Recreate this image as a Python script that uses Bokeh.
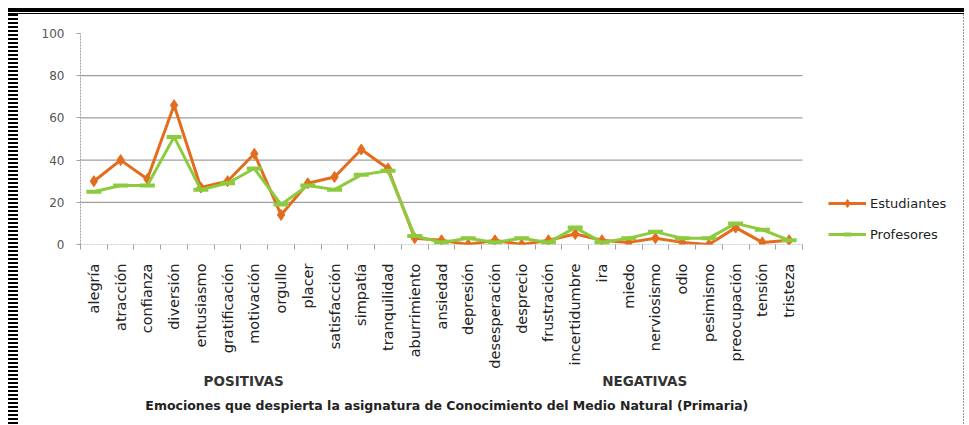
import math
from bokeh.plotting import figure
from bokeh.models import (FixedTicker, Legend, LegendItem, Range1d, Div, LinearAxis,
                          CustomJSTickFormatter, ColumnDataSource)
from bokeh.layouts import row, column
from bokeh.embed import file_html
from bokeh.resources import INLINE

# ---------------- data ----------------
categories = ["alegría", "atracción", "confianza", "diversión", "entusiasmo",
              "gratificación", "motivación", "orgullo", "placer", "satisfacción",
              "simpatía", "tranquilidad",
              "aburrimiento", "ansiedad", "depresión", "desesperación", "desprecio",
              "frustración", "incertidumbre", "ira", "miedo", "nerviosismo", "odio",
              "pesimismo", "preocupación", "tensión", "tristeza"]
estudiantes = [30, 40, 31, 66, 27, 30, 43, 14, 29, 32, 45, 36,
               3, 2, 0, 2, 0, 2, 5, 2, 1, 3, 1, 0, 8, 1, 2]
profesores = [25, 28, 28, 51, 26, 29, 36, 19, 28, 26, 33, 35,
              4, 1, 3, 1, 3, 1, 8, 1, 3, 6, 3, 3, 10, 7, 2]
series_names = ["Estudiantes", "Profesores"]
group_labels = ["POSITIVAS", "NEGATIVAS"]
title_text = "Emociones que despierta la asignatura de Conocimiento del Medio Natural (Primaria)"
y_ticks = [0, 20, 40, 60, 80, 100]
grid_ticks = [20, 40, 60, 80]

ORANGE = "#E36C1E"
GREEN = "#8DCB3E"
AXIS_GREY = "#a0a0a0"
FONT = "DejaVu Sans"

n = len(categories)
xs = [i + 0.5 for i in range(n)]
src = ColumnDataSource(dict(x=xs, est=estudiantes, prof=profesores))

# plot area of the categories is 722px wide; the frame is widened to the
# right so that the legend (drawn inside the frame) stays visible
FIG_W, FIG_H = 945, 410
LEFT, RIGHT, TOP, BOTTOM = 62, 10, 19, 180
cat_px = 722
frame_w = FIG_W - LEFT - RIGHT
x_end = n * frame_w / cat_px

p = figure(width=FIG_W, height=FIG_H, output_backend="svg", toolbar_location=None,
           x_range=Range1d(0, x_end), y_range=Range1d(0, 100),
           min_border_left=LEFT, min_border_right=RIGHT, min_border_top=TOP,
           min_border_bottom=BOTTOM)
p.outline_line_color = None
p.background_fill_color = "white"
p.border_fill_color = "white"

# category axis: labels at centres, tick marks between categories
p.xaxis.ticker = FixedTicker(ticks=xs, minor_ticks=list(range(n + 1)))
p.xaxis.formatter = CustomJSTickFormatter(args=dict(labels=categories),
                                          code="return labels[Math.floor(tick)] || '';")
p.xaxis.major_label_orientation = math.pi / 2
p.xaxis.major_tick_line_color = None
p.xaxis.major_tick_out = 0
p.xaxis.major_tick_in = 0
p.xaxis.minor_tick_out = 5
p.xaxis.minor_tick_in = 0
p.xaxis.minor_tick_line_color = AXIS_GREY
p.xaxis.axis_line_color = None
p.xaxis.major_label_standoff = 14
p.xaxis.major_label_text_font = FONT
p.xaxis.major_label_text_font_size = "14.5px"
p.xaxis.major_label_text_color = "#222222"

# group labels (second axis) and chart title (third axis)
grp_axis = LinearAxis(ticker=FixedTicker(ticks=[6.1, 21.1]),
                      formatter=CustomJSTickFormatter(args=dict(labels=group_labels),
                                                      code="return labels[index];"),
                      axis_line_color=None, major_tick_line_color=None,
                      minor_tick_line_color=None, major_tick_out=0, major_tick_in=0,
                      minor_tick_out=0, minor_tick_in=0, major_label_standoff=1,
                      major_label_text_font=FONT, major_label_text_font_size="13.5px",
                      major_label_text_font_style="bold",
                      major_label_text_color="#333333")
p.add_layout(grp_axis, "below")
ttl_axis = LinearAxis(ticker=FixedTicker(ticks=[13.7]),
                      formatter=CustomJSTickFormatter(args=dict(labels=[title_text]),
                                                      code="return labels[index];"),
                      axis_line_color=None, major_tick_line_color=None,
                      minor_tick_line_color=None, major_tick_out=0, major_tick_in=0,
                      minor_tick_out=0, minor_tick_in=0, major_label_standoff=6,
                      major_label_text_font=FONT, major_label_text_font_size="12.5px",
                      major_label_text_font_style="bold",
                      major_label_text_color="#222222")
p.add_layout(ttl_axis, "below")

p.yaxis.ticker = FixedTicker(ticks=y_ticks)
p.yaxis.major_tick_out = 4
p.yaxis.major_tick_in = 0
p.yaxis.minor_tick_line_color = None
p.yaxis.major_tick_line_color = AXIS_GREY
p.yaxis.axis_line_color = AXIS_GREY
p.yaxis.axis_line_dash = "2 1"
p.yaxis.major_label_standoff = 12
p.yaxis.major_label_text_font = FONT
p.yaxis.major_label_text_font_size = "12px"
p.yaxis.major_label_text_color = "#555555"

# grid lines and category axis line limited to the category area
p.xgrid.grid_line_color = None
p.ygrid.grid_line_color = None
p.segment(x0=[0] * len(grid_ticks), x1=[n] * len(grid_ticks), y0=grid_ticks,
          y1=grid_ticks, line_color="#868686", line_width=1)
p.segment(x0=[0], x1=[n], y0=[0], y1=[0], line_color=AXIS_GREY, line_width=1,
          line_dash="2 1")

# series
l1 = p.line("x", "est", source=src, color=ORANGE, line_width=3)
s1 = p.scatter("x", "est", source=src, marker="diamond", size=11,
               fill_color=ORANGE, line_color=ORANGE)
l2 = p.line("x", "prof", source=src, color=GREEN, line_width=3)
s2 = p.scatter("x", "prof", source=src, marker="dash", size=15,
               line_color=GREEN, line_width=4)

legend = Legend(items=[LegendItem(label=series_names[0], renderers=[l1, s1]),
                       LegendItem(label=series_names[1], renderers=[l2, s2])],
                location=(748, 0), border_line_color=None, background_fill_alpha=0,
                glyph_width=38, glyph_height=20, label_standoff=4, spacing=11,
                padding=0, margin=0, label_text_font=FONT,
                label_text_font_size="13px", label_text_color="#222222")
p.add_layout(legend, "center")

top_bar = Div(text="", width=956, height=6, margin=0,
              styles={"background": "linear-gradient(to bottom, #000 0 4px, #fff 4px 5px, #000 5px 6px)"})
left_bar = Div(text="", width=10, height=FIG_H, margin=0,
               styles={"background": "repeating-linear-gradient(to bottom, #000 0 2px, #fff 2px 4px)"})
right_line = Div(text="", width=1, height=FIG_H, margin=0,
                 styles={"background": "repeating-linear-gradient(to bottom, #999 0 2px, #fff 2px 3px)"})

layout = column(top_bar, row(left_bar, p, right_line, spacing=0), spacing=0,
                margin=(8, 0, 0, 8))

open("out.html", "w").write(file_html(layout, INLINE))
